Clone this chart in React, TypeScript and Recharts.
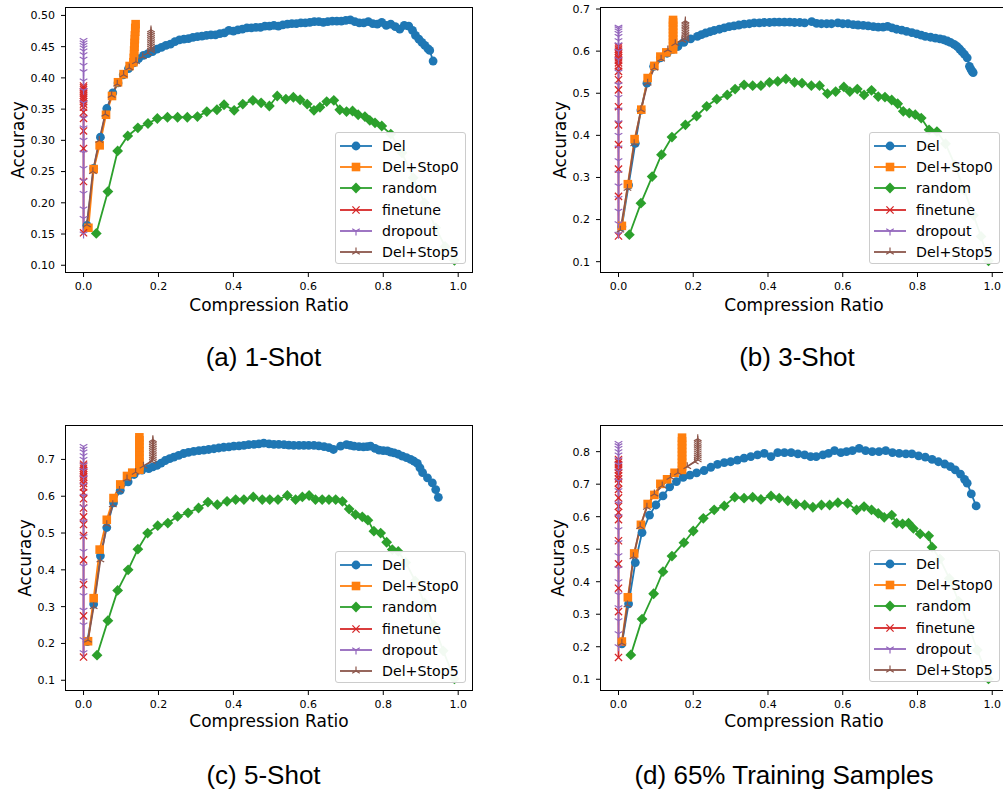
import React from "react";
import { LineChart, Line, XAxis, YAxis } from "recharts";

type Pt = [number, number];

// ---------- (a) 1-Shot ----------
const del1: Pt[] = [
  [0.009, 0.164], [0.027, 0.255], [0.045, 0.305], [0.062, 0.351], [0.078, 0.376], [0.092, 0.392],
  [0.106, 0.405], [0.12, 0.415], [0.134, 0.424], [0.147, 0.431], [0.16, 0.436], [0.172, 0.439],
  [0.184, 0.442], [0.196, 0.446], [0.208, 0.449], [0.22, 0.452], [0.232, 0.454], [0.244, 0.458],
  [0.256, 0.461], [0.268, 0.462], [0.28, 0.463], [0.292, 0.465], [0.304, 0.466], [0.316, 0.467],
  [0.328, 0.468], [0.34, 0.469], [0.352, 0.469], [0.364, 0.471], [0.376, 0.472], [0.388, 0.476],
  [0.4, 0.475], [0.412, 0.477], [0.424, 0.478], [0.436, 0.48], [0.448, 0.48], [0.46, 0.481],
  [0.472, 0.481], [0.484, 0.483], [0.496, 0.483], [0.508, 0.484], [0.52, 0.483], [0.532, 0.485],
  [0.544, 0.486], [0.556, 0.487], [0.568, 0.487], [0.58, 0.488], [0.592, 0.488], [0.604, 0.489],
  [0.616, 0.49], [0.628, 0.49], [0.64, 0.489], [0.652, 0.49], [0.664, 0.491], [0.676, 0.491],
  [0.688, 0.491], [0.7, 0.492], [0.712, 0.493], [0.724, 0.49], [0.736, 0.488], [0.748, 0.488],
  [0.76, 0.49], [0.772, 0.487], [0.784, 0.486], [0.796, 0.489], [0.808, 0.484], [0.82, 0.486],
  [0.832, 0.482], [0.844, 0.478], [0.856, 0.484], [0.868, 0.483], [0.878, 0.476], [0.886, 0.468],
  [0.895, 0.462], [0.903, 0.457], [0.911, 0.452], [0.919, 0.447], [0.924, 0.444], [0.933, 0.427],
];
const stop0_1: Pt[] = [
  [0.013, 0.16], [0.027, 0.254], [0.043, 0.292], [0.06, 0.341], [0.076, 0.371], [0.092, 0.393],
  [0.107, 0.406], [0.123, 0.419], [0.133, 0.425], [0.134, 0.432], [0.135, 0.438], [0.135, 0.444],
  [0.136, 0.45], [0.136, 0.456], [0.137, 0.462], [0.137, 0.468], [0.138, 0.474], [0.138, 0.48],
  [0.139, 0.486],
];
const rand1: Pt[] = [
  [0.034, 0.151], [0.065, 0.218], [0.091, 0.283], [0.118, 0.307], [0.145, 0.32], [0.172, 0.327],
  [0.197, 0.335], [0.224, 0.337], [0.251, 0.337], [0.277, 0.337], [0.304, 0.338], [0.329, 0.346],
  [0.356, 0.349], [0.375, 0.357], [0.402, 0.348], [0.425, 0.358], [0.452, 0.364], [0.474, 0.36],
  [0.496, 0.355], [0.517, 0.371], [0.54, 0.366], [0.56, 0.369], [0.578, 0.365], [0.597, 0.358],
  [0.615, 0.348], [0.631, 0.353], [0.649, 0.362], [0.668, 0.364], [0.684, 0.349], [0.702, 0.346],
  [0.718, 0.347], [0.733, 0.341], [0.751, 0.338], [0.764, 0.332], [0.778, 0.328], [0.796, 0.323],
  [0.82, 0.31], [0.85, 0.28], [0.88, 0.24], [0.91, 0.2], [0.94, 0.16], [0.965, 0.13], [0.99, 0.108],
];
const finetune1 = [0.152, 0.234, 0.287, 0.315, 0.335, 0.345, 0.353, 0.358, 0.362, 0.366, 0.369, 0.372, 0.375, 0.378, 0.381, 0.384, 0.387];
const dropout1 = [0.15, 0.175, 0.19, 0.215, 0.235, 0.255, 0.28, 0.3, 0.32, 0.335, 0.36, 0.38, 0.395, 0.41, 0.42, 0.43, 0.437, 0.443, 0.448, 0.452, 0.456, 0.46];
const stop5_1: Pt[] = [
  [0.009, 0.165], [0.025, 0.25], [0.042, 0.3], [0.058, 0.342], [0.075, 0.372], [0.09, 0.39],
  [0.107, 0.405], [0.122, 0.416], [0.14, 0.426], [0.158, 0.434], [0.172, 0.44], [0.18, 0.444],
  [0.18, 0.447], [0.18, 0.45], [0.18, 0.453], [0.18, 0.456], [0.18, 0.459], [0.18, 0.462],
  [0.18, 0.465], [0.18, 0.468], [0.18, 0.471], [0.18, 0.474], [0.18, 0.477],
];

// ---------- (b) 3-Shot ----------
const del3: Pt[] = [
  [0.009, 0.183], [0.027, 0.282], [0.045, 0.381], [0.06, 0.46], [0.076, 0.524], [0.094, 0.564],
  [0.112, 0.584], [0.13, 0.595], [0.145, 0.604], [0.159, 0.611], [0.175, 0.621], [0.193, 0.629],
  [0.211, 0.635], [0.222, 0.639], [0.233, 0.643], [0.245, 0.646], [0.256, 0.649], [0.27, 0.652],
  [0.283, 0.655], [0.296, 0.658], [0.309, 0.66], [0.322, 0.662], [0.336, 0.664], [0.35, 0.665],
  [0.363, 0.667], [0.377, 0.667], [0.39, 0.668], [0.404, 0.668], [0.417, 0.669], [0.43, 0.669],
  [0.444, 0.669], [0.458, 0.669], [0.471, 0.668], [0.485, 0.668], [0.498, 0.667], [0.517, 0.67],
  [0.53, 0.666], [0.543, 0.665], [0.557, 0.665], [0.57, 0.665], [0.587, 0.667], [0.6, 0.665],
  [0.614, 0.665], [0.628, 0.663], [0.641, 0.662], [0.655, 0.661], [0.668, 0.66], [0.682, 0.658],
  [0.695, 0.657], [0.708, 0.657], [0.72, 0.659], [0.732, 0.655], [0.744, 0.652], [0.758, 0.65],
  [0.771, 0.647], [0.785, 0.644], [0.798, 0.641], [0.81, 0.638], [0.821, 0.635], [0.835, 0.633],
  [0.848, 0.631], [0.86, 0.629], [0.87, 0.627], [0.88, 0.624], [0.888, 0.621], [0.898, 0.616],
  [0.906, 0.611], [0.913, 0.605], [0.919, 0.599], [0.926, 0.592], [0.933, 0.584], [0.939, 0.564],
  [0.943, 0.557], [0.946, 0.552], [0.949, 0.549],
];
const stop0_3: Pt[] = [
  [0.009, 0.185], [0.025, 0.284], [0.043, 0.391], [0.061, 0.461], [0.078, 0.536], [0.096, 0.565],
  [0.112, 0.587], [0.128, 0.597], [0.146, 0.604], [0.146, 0.612], [0.146, 0.62], [0.146, 0.628],
  [0.146, 0.636], [0.146, 0.644], [0.146, 0.652], [0.146, 0.66], [0.146, 0.668], [0.146, 0.674],
];
const rand3: Pt[] = [
  [0.029, 0.164], [0.06, 0.239], [0.09, 0.302], [0.115, 0.354], [0.143, 0.396], [0.179, 0.425],
  [0.209, 0.446], [0.236, 0.469], [0.263, 0.486], [0.291, 0.496], [0.312, 0.51], [0.336, 0.52],
  [0.359, 0.518], [0.381, 0.518], [0.404, 0.526], [0.426, 0.528], [0.448, 0.534], [0.471, 0.526],
  [0.491, 0.524], [0.516, 0.518], [0.538, 0.518], [0.559, 0.499], [0.581, 0.504], [0.603, 0.515],
  [0.619, 0.504], [0.639, 0.51], [0.657, 0.496], [0.677, 0.507], [0.695, 0.492], [0.713, 0.491],
  [0.731, 0.484], [0.747, 0.475], [0.762, 0.457], [0.778, 0.453], [0.794, 0.449], [0.81, 0.441],
  [0.831, 0.413], [0.852, 0.409], [0.875, 0.38], [0.9, 0.33], [0.925, 0.27], [0.95, 0.21],
  [0.97, 0.16], [0.99, 0.102],
];
const finetune3 = [0.161, 0.255, 0.32, 0.378, 0.425, 0.468, 0.508, 0.532, 0.552, 0.565, 0.572, 0.578, 0.584, 0.59, 0.595, 0.6, 0.605, 0.61];
const dropout3 = [0.165, 0.19, 0.22, 0.25, 0.28, 0.31, 0.34, 0.37, 0.4, 0.43, 0.46, 0.49, 0.52, 0.55, 0.58, 0.6, 0.615, 0.625, 0.635, 0.642, 0.648, 0.653, 0.657];
const stop5_3: Pt[] = [
  [0.005, 0.175], [0.024, 0.274], [0.042, 0.38], [0.06, 0.461], [0.078, 0.524], [0.096, 0.56],
  [0.114, 0.581], [0.132, 0.603], [0.152, 0.618], [0.17, 0.626], [0.179, 0.629], [0.179, 0.633],
  [0.179, 0.637], [0.179, 0.641], [0.179, 0.645], [0.179, 0.649], [0.179, 0.653], [0.179, 0.657],
  [0.179, 0.661], [0.179, 0.665], [0.179, 0.669], [0.179, 0.672],
];

// ---------- (c) 5-Shot ----------
const del5: Pt[] = [
  [0.01, 0.205], [0.027, 0.307], [0.045, 0.438], [0.062, 0.515], [0.08, 0.582], [0.098, 0.616],
  [0.119, 0.639], [0.135, 0.659], [0.156, 0.671], [0.174, 0.675], [0.185, 0.68], [0.196, 0.684],
  [0.207, 0.69], [0.218, 0.697], [0.23, 0.702], [0.241, 0.706], [0.254, 0.711], [0.267, 0.716],
  [0.28, 0.719], [0.294, 0.722], [0.308, 0.724], [0.321, 0.725], [0.334, 0.727], [0.348, 0.729],
  [0.361, 0.731], [0.374, 0.733], [0.388, 0.734], [0.401, 0.736], [0.415, 0.737], [0.428, 0.738],
  [0.441, 0.74], [0.455, 0.741], [0.468, 0.742], [0.481, 0.744], [0.495, 0.742], [0.508, 0.741],
  [0.521, 0.741], [0.535, 0.74], [0.548, 0.739], [0.561, 0.738], [0.575, 0.738], [0.588, 0.738],
  [0.601, 0.738], [0.615, 0.738], [0.628, 0.737], [0.642, 0.735], [0.655, 0.732], [0.667, 0.727],
  [0.686, 0.736], [0.702, 0.74], [0.712, 0.738], [0.722, 0.736], [0.735, 0.735], [0.747, 0.734],
  [0.757, 0.735], [0.766, 0.736], [0.778, 0.73], [0.789, 0.725], [0.8, 0.724], [0.811, 0.723],
  [0.82, 0.72], [0.829, 0.718], [0.84, 0.714], [0.851, 0.709], [0.862, 0.705], [0.873, 0.7],
  [0.882, 0.695], [0.891, 0.689], [0.898, 0.677], [0.905, 0.664], [0.918, 0.65], [0.931, 0.636],
  [0.94, 0.618], [0.947, 0.597],
];
const stop0_5: Pt[] = [
  [0.012, 0.206], [0.027, 0.323], [0.043, 0.455], [0.062, 0.536], [0.08, 0.595], [0.098, 0.632],
  [0.116, 0.655], [0.13, 0.664], [0.149, 0.672], [0.149, 0.682], [0.149, 0.692], [0.149, 0.702],
  [0.149, 0.712], [0.149, 0.722], [0.149, 0.732], [0.149, 0.742], [0.149, 0.752], [0.149, 0.76],
];
const rand5: Pt[] = [
  [0.036, 0.168], [0.065, 0.262], [0.091, 0.344], [0.119, 0.4], [0.145, 0.456], [0.171, 0.5],
  [0.198, 0.52], [0.225, 0.527], [0.251, 0.545], [0.279, 0.555], [0.307, 0.568], [0.332, 0.584],
  [0.357, 0.577], [0.383, 0.586], [0.406, 0.591], [0.428, 0.591], [0.453, 0.598], [0.477, 0.591],
  [0.497, 0.591], [0.519, 0.591], [0.544, 0.602], [0.566, 0.591], [0.584, 0.598], [0.602, 0.602],
  [0.619, 0.591], [0.637, 0.591], [0.655, 0.591], [0.673, 0.591], [0.691, 0.586], [0.709, 0.565],
  [0.726, 0.55], [0.744, 0.544], [0.759, 0.535], [0.775, 0.505], [0.793, 0.5], [0.809, 0.475],
  [0.824, 0.455], [0.84, 0.45], [0.86, 0.42], [0.885, 0.37], [0.91, 0.31], [0.935, 0.25],
  [0.96, 0.18], [0.99, 0.104],
];
const finetune5 = [0.163, 0.275, 0.36, 0.427, 0.493, 0.523, 0.544, 0.568, 0.593, 0.61, 0.625, 0.635, 0.645, 0.652, 0.658, 0.664, 0.67, 0.676, 0.682, 0.687];
const dropout5 = [0.175, 0.21, 0.25, 0.29, 0.33, 0.37, 0.41, 0.45, 0.49, 0.53, 0.57, 0.6, 0.63, 0.65, 0.67, 0.685, 0.7, 0.71, 0.72, 0.728, 0.735];
const stop5_5: Pt[] = [
  [0.012, 0.209], [0.027, 0.3], [0.045, 0.427], [0.062, 0.523], [0.078, 0.577], [0.096, 0.616],
  [0.116, 0.647], [0.139, 0.665], [0.16, 0.682], [0.182, 0.695], [0.185, 0.7], [0.185, 0.705],
  [0.185, 0.71], [0.185, 0.715], [0.185, 0.72], [0.185, 0.725], [0.185, 0.73], [0.185, 0.735],
  [0.185, 0.74], [0.185, 0.745], [0.185, 0.75], [0.185, 0.754],
];

// ---------- (d) 65% Training Samples ----------
const del65: Pt[] = [
  [0.009, 0.209], [0.027, 0.332], [0.045, 0.459], [0.063, 0.551], [0.083, 0.605], [0.1, 0.636],
  [0.119, 0.664], [0.137, 0.692], [0.155, 0.708], [0.173, 0.721], [0.191, 0.728], [0.209, 0.735],
  [0.229, 0.742], [0.247, 0.752], [0.265, 0.761], [0.283, 0.766], [0.3, 0.769], [0.318, 0.774],
  [0.336, 0.78], [0.354, 0.785], [0.372, 0.79], [0.39, 0.795], [0.408, 0.785], [0.426, 0.797],
  [0.444, 0.797], [0.462, 0.797], [0.48, 0.793], [0.498, 0.79], [0.514, 0.785], [0.529, 0.785],
  [0.547, 0.79], [0.562, 0.795], [0.578, 0.803], [0.595, 0.797], [0.61, 0.8], [0.626, 0.803],
  [0.644, 0.81], [0.661, 0.803], [0.679, 0.8], [0.697, 0.8], [0.715, 0.803], [0.733, 0.797],
  [0.751, 0.795], [0.769, 0.793], [0.785, 0.793], [0.803, 0.787], [0.821, 0.783], [0.839, 0.776],
  [0.856, 0.769], [0.873, 0.762], [0.888, 0.754], [0.901, 0.744], [0.915, 0.731], [0.926, 0.715],
  [0.933, 0.703], [0.944, 0.67], [0.957, 0.633],
];
const stop0_65: Pt[] = [
  [0.009, 0.216], [0.025, 0.352], [0.042, 0.487], [0.06, 0.575], [0.078, 0.639], [0.096, 0.667],
  [0.112, 0.701], [0.13, 0.715], [0.15, 0.735], [0.17, 0.744], [0.17, 0.755], [0.17, 0.766],
  [0.17, 0.777], [0.17, 0.788], [0.17, 0.799], [0.17, 0.81], [0.17, 0.821], [0.17, 0.832],
  [0.17, 0.843],
];
const rand65: Pt[] = [
  [0.033, 0.175], [0.063, 0.285], [0.094, 0.363], [0.119, 0.431], [0.143, 0.479], [0.175, 0.52],
  [0.2, 0.556], [0.227, 0.595], [0.256, 0.621], [0.283, 0.633], [0.311, 0.66], [0.336, 0.657],
  [0.359, 0.66], [0.381, 0.653], [0.408, 0.664], [0.43, 0.657], [0.453, 0.649], [0.475, 0.639],
  [0.498, 0.636], [0.52, 0.629], [0.543, 0.636], [0.565, 0.636], [0.587, 0.643], [0.613, 0.641],
  [0.637, 0.621], [0.657, 0.631], [0.677, 0.621], [0.695, 0.61], [0.711, 0.598], [0.731, 0.605],
  [0.744, 0.58], [0.76, 0.578], [0.776, 0.58], [0.789, 0.564], [0.807, 0.547], [0.83, 0.541],
  [0.839, 0.506], [0.86, 0.47], [0.885, 0.41], [0.91, 0.34], [0.935, 0.27], [0.96, 0.19],
  [0.99, 0.101],
];
const finetune65 = [0.167, 0.308, 0.38, 0.455, 0.526, 0.591, 0.613, 0.632, 0.658, 0.684, 0.704, 0.716, 0.726, 0.735, 0.744, 0.752, 0.76, 0.768, 0.776];
const dropout65 = [0.2, 0.24, 0.28, 0.32, 0.36, 0.4, 0.44, 0.48, 0.52, 0.56, 0.6, 0.64, 0.68, 0.71, 0.74, 0.76, 0.775, 0.79, 0.8, 0.81, 0.818, 0.825];
const stop5_65: Pt[] = [
  [0.009, 0.211], [0.024, 0.329], [0.04, 0.477], [0.058, 0.57], [0.076, 0.629], [0.096, 0.67],
  [0.117, 0.695], [0.139, 0.721], [0.159, 0.735], [0.184, 0.754], [0.204, 0.769], [0.212, 0.775],
  [0.212, 0.781], [0.212, 0.787], [0.212, 0.793], [0.212, 0.799], [0.212, 0.805], [0.212, 0.811],
  [0.212, 0.817], [0.212, 0.823], [0.212, 0.829], [0.212, 0.835], [0.212, 0.84],
];

const seriesNames = ["Del", "Del+Stop0", "random", "finetune", "dropout", "Del+Stop5"];
const seriesColors = ["#1f77b4", "#ff7f0e", "#2ca02c", "#d62728", "#9467bd", "#8c564b"];
type Shape = "circle" | "square" | "diamond" | "x" | "tridown" | "triup";
const seriesShapes: Shape[] = ["circle", "square", "diamond", "x", "tridown", "triup"];

const xTicks = [0, 0.2, 0.4, 0.6, 0.8, 1.0];
const FONT = "'DejaVu Sans', sans-serif";

const Marker = ({ shape, cx, cy, color }: { shape: Shape; cx: number; cy: number; color: string }) => {
  const r = 4.4;
  switch (shape) {
    case "circle":
      return <circle cx={cx} cy={cy} r={4.4} fill={color} />;
    case "square":
      return <rect x={cx - 4.3} y={cy - 4.3} width={8.6} height={8.6} fill={color} />;
    case "diamond":
      return <polygon points={`${cx},${cy - 5.4} ${cx + 5.4},${cy} ${cx},${cy + 5.4} ${cx - 5.4},${cy}`} fill={color} />;
    case "x":
      return (
        <path
          d={`M${cx - 3.6},${cy - 3.6}L${cx + 3.6},${cy + 3.6}M${cx - 3.6},${cy + 3.6}L${cx + 3.6},${cy - 3.6}`}
          stroke={color}
          strokeWidth={1.3}
          fill="none"
        />
      );
    case "tridown":
      return (
        <path
          d={`M${cx},${cy}L${cx},${cy + r}M${cx},${cy}L${cx - 0.866 * r},${cy - 0.5 * r}M${cx},${cy}L${cx + 0.866 * r},${cy - 0.5 * r}`}
          stroke={color}
          strokeWidth={1.2}
          fill="none"
        />
      );
    default:
      return (
        <path
          d={`M${cx},${cy}L${cx},${cy - r}M${cx},${cy}L${cx - 0.866 * r},${cy + 0.5 * r}M${cx},${cy}L${cx + 0.866 * r},${cy + 0.5 * r}`}
          stroke={color}
          strokeWidth={1.2}
          fill="none"
        />
      );
  }
};

const toRows = (pts: Pt[]) => pts.map(([x, y]) => ({ x, y }));
const atZero = (ys: number[]) => ys.map((y) => ({ x: 0, y }));

interface PanelProps {
  left: number;
  top: number;
  plotW: number;
  plotH: number;
  yDomain: [number, number];
  yTicks: number[];
  yDigits: number;
  data: { x: number; y: number }[][];
  legendLeft: number;
  legendTop: number;
  yLabelX: number;
  xLabelY: number;
}

const Panel = (p: PanelProps) => {
  const padL = 60;
  const padT = 10;
  return (
    <>
      <div style={{ position: "absolute", left: p.left - padL, top: p.top - padT }}>
        <LineChart
          width={padL + p.plotW + 10}
          height={padT + p.plotH + 40}
          margin={{ top: padT, right: 10, left: 0, bottom: 0 }}
        >
          <XAxis
            dataKey="x"
            type="number"
            domain={[-0.0495, 1.0395]}
            ticks={xTicks}
            allowDataOverflow
            height={40}
            axisLine={false}
            tickSize={4}
            tickMargin={5}
            tickLine={{ stroke: "#000" }}
            tickFormatter={(v: number) => v.toFixed(1)}
            tick={{ fontSize: 11, fill: "#000", fontFamily: FONT }}
          />
          <YAxis
            type="number"
            domain={p.yDomain}
            ticks={p.yTicks}
            allowDataOverflow
            width={padL}
            axisLine={false}
            tickSize={4}
            tickMargin={6}
            tickLine={{ stroke: "#000" }}
            tickFormatter={(v: number) => v.toFixed(p.yDigits)}
            tick={{ fontSize: 11, fill: "#000", fontFamily: FONT }}
          />
          {p.data.map((rows, i) => (
            <Line
              key={seriesNames[i]}
              data={rows}
              dataKey="y"
              type="linear"
              stroke={seriesColors[i]}
              strokeWidth={1.8}
              isAnimationActive={false}
              activeDot={false}
              dot={(d: any) => (
                <Marker key={`m${i}-${d.index}`} shape={seriesShapes[i]} cx={d.cx} cy={d.cy} color={seriesColors[i]} />
              )}
            />
          ))}
        </LineChart>
      </div>
      {/* axes frame */}
      <div
        style={{
          position: "absolute",
          left: p.left,
          top: p.top,
          width: p.plotW,
          height: p.plotH,
          border: "1px solid #000",
          boxSizing: "border-box",
          pointerEvents: "none",
        }}
      />
      {/* legend */}
      <div
        style={{
          position: "absolute",
          left: p.legendLeft,
          top: p.legendTop,
          width: 131,
          height: 132,
          boxSizing: "border-box",
          border: "1px solid #ccc",
          borderRadius: 3,
          background: "rgba(255,255,255,0.94)",
          paddingTop: 2,
        }}
      >
        {seriesNames.map((name, i) => (
          <div key={name} style={{ display: "flex", alignItems: "center", height: 21.3 }}>
            <svg width={40} height={16} style={{ marginLeft: 3 }}>
              <line x1={1} y1={8} x2={33} y2={8} stroke={seriesColors[i]} strokeWidth={1.8} />
              <Marker shape={seriesShapes[i]} cx={17} cy={8} color={seriesColors[i]} />
            </svg>
            <span style={{ fontFamily: FONT, fontSize: 14.2, color: "#000", marginLeft: 3 }}>{name}</span>
          </div>
        ))}
      </div>
      {/* axis titles */}
      <div
        style={{
          position: "absolute",
          left: p.yLabelX,
          top: p.top + p.plotH / 2,
          transform: "translate(-50%, -50%) rotate(-90deg)",
          fontFamily: FONT,
          fontSize: 17,
          lineHeight: 1,
          whiteSpace: "nowrap",
        }}
      >
        Accuracy
      </div>
      <div
        style={{
          position: "absolute",
          left: p.left + 204,
          top: p.xLabelY,
          transform: "translate(-50%, -50%)",
          fontFamily: FONT,
          fontSize: 17,
          lineHeight: 1,
          whiteSpace: "nowrap",
        }}
      >
        Compression Ratio
      </div>
    </>
  );
};

const Caption = ({ x, y, text }: { x: number; y: number; text: string }) => (
  <div
    style={{
      position: "absolute",
      left: x,
      top: y,
      transform: "translate(-50%, -50%)",
      fontFamily: "'Liberation Sans', Arial, sans-serif",
      fontSize: 26,
      lineHeight: 1,
      whiteSpace: "nowrap",
    }}
  >
    {text}
  </div>
);

const App = () => {
  return (
    <div
      style={{
        position: "absolute",
        left: 0,
        top: 0,
        width: 1003,
        height: 794,
        overflow: "hidden",
        background: "#fff",
      }}
    >
      <Panel
        left={65}
        top={7}
        plotW={408}
        plotH={266}
        yDomain={[0.0876, 0.5135]}
        yTicks={[0.1, 0.15, 0.2, 0.25, 0.3, 0.35, 0.4, 0.45, 0.5]}
        yDigits={2}
        data={[toRows(del1), toRows(stop0_1), toRows(rand1), atZero(finetune1), atZero(dropout1), toRows(stop5_1)]}
        legendLeft={335}
        legendTop={132}
        yLabelX={18}
        xLabelY={305}
      />
      <Panel
        left={600}
        top={7}
        plotW={407}
        plotH={266}
        yDomain={[0.0731, 0.7048]}
        yTicks={[0.1, 0.2, 0.3, 0.4, 0.5, 0.6, 0.7]}
        yDigits={1}
        data={[toRows(del3), toRows(stop0_3), toRows(rand3), atZero(finetune3), atZero(dropout3), toRows(stop5_3)]}
        legendLeft={869}
        legendTop={132}
        yLabelX={560}
        xLabelY={305}
      />
      <Panel
        left={65}
        top={425}
        plotW={408}
        plotH={266}
        yDomain={[0.0708, 0.7935]}
        yTicks={[0.1, 0.2, 0.3, 0.4, 0.5, 0.6, 0.7]}
        yDigits={1}
        data={[toRows(del5), toRows(stop0_5), toRows(rand5), atZero(finetune5), atZero(dropout5), toRows(stop5_5)]}
        legendLeft={335}
        legendTop={551}
        yLabelX={25}
        xLabelY={721}
      />
      <Panel
        left={600}
        top={425}
        plotW={407}
        plotH={266}
        yDomain={[0.0639, 0.882]}
        yTicks={[0.1, 0.2, 0.3, 0.4, 0.5, 0.6, 0.7, 0.8]}
        yDigits={1}
        data={[toRows(del65), toRows(stop0_65), toRows(rand65), atZero(finetune65), atZero(dropout65), toRows(stop5_65)]}
        legendLeft={869}
        legendTop={550}
        yLabelX={558}
        xLabelY={721}
      />
      <Caption x={263.5} y={357} text="(a) 1-Shot" />
      <Caption x={797} y={357} text="(b) 3-Shot" />
      <Caption x={263.5} y={775} text="(c) 5-Shot" />
      <Caption x={784} y={775} text="(d) 65% Training Samples" />
    </div>
  );
};

export default App;
